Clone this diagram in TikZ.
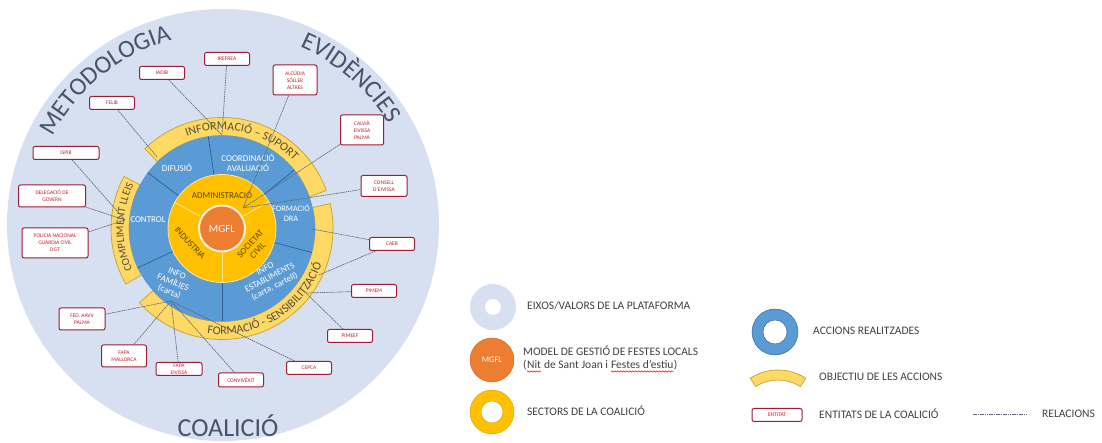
\documentclass[tikz,border=0pt]{standalone}
\usepackage{fontspec}
\setmainfont{Carlito}
\usetikzlibrary{decorations.text,decorations.pathmorphing}

\definecolor{bgblue}{HTML}{D7E0F0}
\definecolor{ringblue}{HTML}{5B9BD5}
\definecolor{ringblueD}{HTML}{2B5F91}
\definecolor{sectyel}{HTML}{FFC000}
\definecolor{sectyelL}{HTML}{FFE699}
\definecolor{arcyel}{HTML}{FFD966}
\definecolor{arcyelD}{HTML}{C8A02A}
\definecolor{mgfl}{HTML}{ED7D31}
\definecolor{mgflB}{HTML}{FFF2D9}
\definecolor{titlec}{HTML}{46536A}
\definecolor{entred}{HTML}{C0202A}
\definecolor{entbord}{HTML}{A01C34}
\definecolor{relgrey}{HTML}{5E6878}
\definecolor{legtext}{HTML}{404040}
\definecolor{secttext}{HTML}{5A4500}
\definecolor{arctext}{HTML}{55503A}

\newcommand\arcfont{\fontsize{12}{12}\selectfont}
\newcommand\arcfontS{\fontsize{11}{11}\selectfont}
\newcommand\titfont{\fontsize{25}{25}\selectfont}

\tikzset{
 ent/.style={draw=entbord, line width=1pt, rounded corners=2pt, fill=white, text=entred,
   font=\fontsize{5.5}{7}\selectfont, align=center, inner sep=1pt, minimum width=45pt, minimum height=13pt},
 rel/.style={draw=relgrey, line width=0.65pt, dash pattern=on 1.6pt off 0.7pt},
 bluetxt/.style={text=white, font=\fontsize{9}{10}\selectfont, align=center, inner sep=0pt},
 secttxt/.style={text=secttext, font=\fontsize{9}{10}\selectfont, align=center, inner sep=0pt},
 legtxt/.style={text=legtext, font=\fontsize{11.5}{13}\selectfont, anchor=west, inner sep=0pt},
 divB/.style={draw=ringblueD, line width=0.7pt},
 divY/.style={draw=sectyelL, line width=0.8pt},
 objarc/.style={fill=arcyel, draw=arcyelD, line width=0.7pt},
 wavy/.style={draw=red, line width=0.5pt, decorate, decoration={snake, amplitude=0.7pt, segment length=3pt}},
}

\begin{document}
\begin{tikzpicture}[x=1pt,y=1pt]
\useasboundingbox (0,0) rectangle (1102,443);

% background circle
\begin{scope}
\clip (0,0) rectangle (1102,443);
\fill[bgblue] (223,218) circle (216);
\end{scope}

% titles
\begin{scope}[shift={(223,218)}]
\path[decorate,decoration={text along path,text align=center,text color=titlec,text={|\titfont|METODOLOGIA}}]
  (175:192) arc[start angle=175,end angle=83,radius=192];
\path[decorate,decoration={text along path,text align=center,text color=titlec,text={|\titfont|EVIDÈNCIES}}]
  (95:194) arc[start angle=95,end angle=3,radius=194];
\end{scope}
\node[font=\fontsize{26}{26}\selectfont, text=titlec, anchor=base, inner sep=0pt] (coal) at (228,6) {COALICIÓ};

% rings
\begin{scope}[shift={(222,214.5)}]
\path[objarc] (134:111) arc[start angle=134,end angle=20,radius=111] -- (20:93) arc[start angle=20,end angle=134,radius=93] -- cycle;
\path[objarc] (152:111) arc[start angle=152,end angle=210,radius=111] -- (210:93) arc[start angle=210,end angle=152,radius=93] -- cycle;
\path[objarc] (222:111) arc[start angle=222,end angle=373,radius=111] -- (373:93) arc[start angle=373,end angle=222,radius=93] -- cycle;
\fill[ringblue] (0,0) circle (93);
\foreach \ang in {98.5,39,-15,270,205,143} \draw[divB] (\ang:54) -- (\ang:93);
\fill[sectyel] (0,0) circle (54);
\draw[sectyelL, line width=0.8pt] (0,0) circle (54);
\foreach \ang in {151,30,270} \draw[divY] (\ang:25) -- (\ang:54);
\node[circle, fill=mgfl, draw=mgflB, line width=2pt, minimum size=46pt, inner sep=0pt, text=white,
  font=\fontsize{11}{11}\selectfont] (mgfl) at (0,0) {MGFL};
\path[decorate,decoration={text along path,text align=center,text color=arctext,text={|\arcfont|INFORMACIÓ – SUPORT}}]
  (130:98.5) arc[start angle=130,end angle=24,radius=98.5];
\path[decorate,decoration={text along path,text align=center,text color=arctext,text={|\arcfontS|COMPLIMENT LLEIS}}]
  (215:98.5) arc[start angle=215,end angle=143,radius=98.5];
\path[decorate,decoration={text along path,text align=center,text color=arctext,text={|\arcfont|FORMACIÓ - SENSIBILITZACIÓ}}]
  (230:106) arc[start angle=230,end angle=372,radius=106];
\end{scope}

% action labels (blue ring)
\node[bluetxt] (difusio) at (177,275) {DIFUSIÓ};
\node[bluetxt] (coord) at (248,280) {COORDINACIÓ\\AVALUACIÓ};
\node[bluetxt, font=\fontsize{8.3}{9.5}\selectfont] (formdra) at (291,230) {FORMACIÓ\\DRA};
\node[bluetxt, rotate=28] (infoest) at (270,165) {INFO\\ESTABLIMENTS\\(carta, cartell)};
\node[bluetxt, rotate=-22] (infofam) at (173,160) {INFO\\FAMÍLIES\\(carta)};
\node[bluetxt] (control) at (148,223) {CONTROL};

% sector labels (yellow ring)
\node[secttxt] (admin) at (222,248) {ADMINISTRACIÓ};
\node[secttxt, rotate=-47] (indus) at (190,200) {INDUSTRIA};
\node[secttxt, rotate=47] (socciv) at (254,196) {SOCIETAT\\CIVIL};

% entities
\node[ent] (irefrea) at (227,384) {IREFREA};
\node[ent] (iadib) at (162,370) {IADIB};
\node[ent] (felib) at (112,340) {FELIB};
\node[ent, minimum width=66pt] (ispib) at (66,290) {ISPIB};
\node[ent, minimum width=67pt, minimum height=22pt] (deleg) at (52,247) {DELEGACIÓ DE\\GOVERN};
\node[ent, minimum width=66pt, minimum height=30pt] (policia) at (55,200) {POLICIA NACIONAL\\GUARDIA CIVIL\\DGT};
\node[ent, minimum width=46pt, minimum height=22pt] (fedaavv) at (82,124) {FED. AAVV\\PALMA};
\node[ent, minimum height=22pt] (fapam) at (124,87) {FAPA\\MALLORCA};
\node[ent, minimum width=46pt] (fapae) at (179,74) {FAPA\\EIVISSA};
\node[ent, minimum height=14pt] (convi) at (241,63) {CONVIVÈXIT};
\node[ent] (cepca) at (309,75) {CEPCA};
\node[ent] (pimeef) at (350,107) {PIMEEF};
\node[ent] (pimem) at (374,152) {PIMEM};
\node[ent] (caeb) at (392,199) {CAEB};
\node[ent, minimum width=46pt, minimum height=21pt] (consell) at (384,257) {CONSELL\\D'EIVISSA};
\node[ent, minimum width=43pt, minimum height=30pt] (calvia) at (362,313) {CALVIÀ\\EIVISSA\\PALMA};
\node[ent, minimum width=44pt, minimum height=30pt] (alcudia) at (295,363) {ALCÚDIA\\SÓLLER\\ALTRES};

% connection points
\coordinate (pTop) at (222,308);
\coordinate (pFel) at (157,286);
\coordinate (pLeft) at (125,223);
\coordinate (pBL) at (171,142);
\coordinate (pBR) at (306,150);
\coordinate (pCa1) at (312,214);
\coordinate (pCa2) at (319,168);
\coordinate (pAdm) at (243,235);

% relations
\draw[rel] (irefrea) -- (pTop);
\draw[rel] (iadib) -- (pTop);
\draw[rel] (felib) -- (pFel);
\draw[rel] (ispib) -- (pLeft);
\draw[rel] (deleg) -- (pLeft);
\draw[rel] (policia) -- (pLeft);
\draw[rel] (fedaavv) -- (pBL);
\draw[rel] (fapam) -- (pBL);
\draw[rel] (fapae) -- (pBL);
\draw[rel] (convi) -- (pBL);
\draw[rel] (cepca) -- (pBL);
\draw[rel] (pimeef) -- (pBR);
\draw[rel] (pimem) -- (pBR);
\draw[rel] (caeb) -- (pCa1);
\draw[rel] (caeb) -- (pCa2);
\draw[rel] (consell) -- (pAdm);
\draw[rel] (calvia) -- (pAdm);
\draw[rel] (alcudia) -- (pAdm);

% legend
\path[fill=bgblue, even odd rule] (493,136) circle (23) (493,136) circle (8);
\node[legtxt] (lg1) at (527,137) {EIXOS/VALORS DE LA PLATAFORMA};

\node[circle, fill=mgfl, draw=mgfl!85!black, line width=0.4pt, minimum size=44pt, inner sep=0pt, text=white,
  font=\fontsize{8.5}{9}\selectfont] (lgm) at (492,83) {MGFL};
\node[legtxt, anchor=base west] (m1) at (523,87) {MODEL DE GESTIÓ DE FESTES LOCALS};
\node[legtxt, anchor=base west] (m2a) at (523,74) {(};
\node[legtxt, anchor=base west] (m2b) at (m2a.base east) {Nit};
\node[legtxt, anchor=base west] (m2c) at (m2b.base east) {\ de Sant Joan i\ \mbox{}};
\node[legtxt, anchor=base west] (m2d) at (m2c.base east) {Festes d'estiu};
\node[legtxt, anchor=base west] (m2e) at (m2d.base east) {)};
\draw[wavy] ([yshift=-2.5pt]m2b.base west) -- ([yshift=-2.5pt]m2b.base east);
\draw[wavy] ([yshift=-2.5pt]m2d.base west) -- ([yshift=-2.5pt]m2d.base east);

\path[fill=sectyel, draw=sectyel!85!black, line width=0.4pt, even odd rule] (492,31) circle (22) (492,31) circle (11);
\node[legtxt] (lg3) at (527,32) {SECTORS DE LA COALICIÓ};

\path[fill=ringblue, draw=ringblueD, line width=0.4pt, even odd rule] (775,111) circle (23) (775,111) circle (12);
\node[legtxt] (lg4) at (813,112) {ACCIONS REALITZADES};

\begin{scope}[shift={(778,22)}]
\path[objarc] (57:51) arc[start angle=57,end angle=123,radius=51] -- (123:41) arc[start angle=123,end angle=57,radius=41] -- cycle;
\end{scope}
\node[legtxt] (lg5) at (819,66) {OBJECTIU DE LES ACCIONS};

\node[ent, minimum width=50pt, text=red] (lgent) at (777,28) {ENTITAT};
\node[legtxt] (lg6) at (819,29) {ENTITATS DE LA COALICIÓ};
\coordinate (r1) at (973,29);
\coordinate (r2) at (1027,29);
\draw[rel] (r1) -- (r2);
\node[legtxt] (lg7) at (1042,29) {RELACIONS};
\end{tikzpicture}
\end{document}
